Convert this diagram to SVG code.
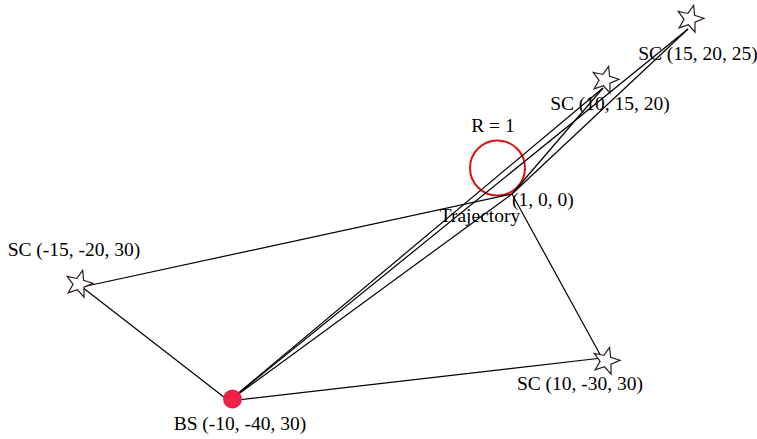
<svg xmlns="http://www.w3.org/2000/svg" width="757" height="439" viewBox="0 0 757 439">
<style>
text{font-family:"Liberation Serif","Times New Roman",serif;font-size:19.5px;fill:#000;}
.c line{stroke:#000;stroke-width:1.2;}
.star{fill:#fff;stroke:#2b1a1a;stroke-width:1.1;stroke-linejoin:miter;}
</style>
<defs>
<polygon id="star" class="star" transform="scale(1.08)" points="3.36,-12.56 4.27,-3.46 12.98,-0.68 4.61,3.00 4.66,12.14 -1.42,5.31 -10.10,8.18 -5.49,0.29 -10.90,-7.08 -1.97,-5.13"/>
</defs>
<rect width="757" height="439" fill="#fff"/>
<g id="trajectory">
<circle cx="497.5" cy="168" r="27.5" fill="none" stroke="#e01010" stroke-width="2"/>
<text x="493" y="132" text-anchor="middle">R = 1</text>
<text x="512" y="206">(1, 0, 0)</text>
<text x="480" y="222" text-anchor="middle">Trajectory</text>
</g>
<g id="connectors" class="c">
<line x1="229" y1="401" x2="688" y2="29"/>
<line x1="229" y1="401" x2="603" y2="88"/>
<line x1="229" y1="401" x2="512" y2="194"/>
<line x1="688" y1="29" x2="512" y2="194"/>
<line x1="603" y1="88" x2="512" y2="194"/>
<line x1="82" y1="287" x2="512" y2="194"/>
<line x1="82" y1="287" x2="229" y2="401"/>
<line x1="602" y1="358" x2="512" y2="194"/>
<line x1="602" y1="358" x2="229" y2="401"/>
</g>
<g id="sc1">
<use href="#star" x="690" y="19"/>
<text x="698" y="60" text-anchor="middle">SC (15, 20, 25)</text>
</g>
<g id="sc2">
<use href="#star" x="605" y="80"/>
<text x="610" y="110" text-anchor="middle">SC (10, 15, 20)</text>
</g>
<g id="sc3">
<use href="#star" x="79" y="284"/>
<text x="74" y="256" text-anchor="middle">SC (-15, -20, 30)</text>
</g>
<g id="sc4">
<use href="#star" x="606" y="361"/>
<text x="580" y="390" text-anchor="middle">SC (10, -30, 30)</text>
</g>
<g id="bs">
<circle cx="232.5" cy="399" r="9.5" fill="#ee2246"/>
<text x="240" y="430" text-anchor="middle">BS (-10, -40, 30)</text>
</g>
</svg>
